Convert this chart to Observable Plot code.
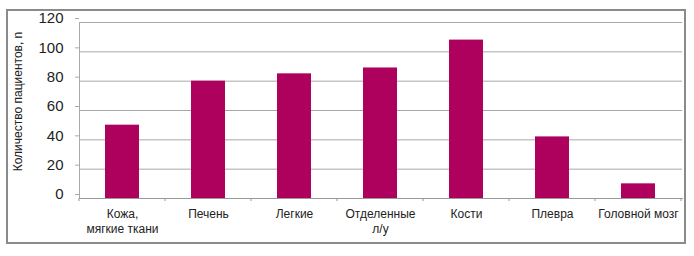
<!DOCTYPE html>
<html><head><meta charset="utf-8">
<script src="https://cdn.jsdelivr.net/npm/d3@7"></script>
<script src="https://cdn.jsdelivr.net/npm/@observablehq/plot@0.6"></script>
<style>
body{margin:0;background:#fff;font-family:"Liberation Sans",Arial,sans-serif;}
#wrap{position:relative;width:694px;height:256px;}
#box{position:absolute;left:6px;top:9px;width:676px;height:231px;border:2px solid #8a8a8a;pointer-events:none;}
</style></head>
<body><div id="wrap"><div id="box"></div></div>
<script>
const categories = ["Кожа,\nмягкие ткани","Печень","Легкие","Отделенные\nл/у","Кости","Плевра","Головной мозг"];
const values = [50, 80, 85, 89, 108, 42, 10];
const yTicks = [0, 20, 40, 60, 80, 100, 120];
const yLabel = "Количество пациентов, n";

const data = categories.map((c, i) => ({cat: c, val: values[i]}));

function boundaryTicks(index, scales, values, dimensions) {
  const g = d3.create("svg:g").attr("stroke", "#999");
  const x = scales.x, bw = x.bandwidth(), step = x.step();
  const y0 = dimensions.height - dimensions.marginBottom;
  const pos = categories.map(c => x(c) - (step - bw) / 2);
  pos.push(x(categories[categories.length - 1]) + bw + (step - bw) / 2);
  for (const p of pos) g.append("line").attr("x1", p).attr("x2", p).attr("y1", y0).attr("y2", y0 + 3);
  return g.node();
}

const chart = Plot.plot({
  width: 694, height: 256,
  marginLeft: 79, marginRight: 12, marginTop: 22, marginBottom: 58,
  style: {fontFamily: "'Liberation Sans', Arial, sans-serif", background: "transparent"},
  x: {domain: categories, paddingInner: 0.6, paddingOuter: 0.3},
  y: {domain: [0, 120]},
  marks: [
    Plot.gridY(yTicks, {stroke: "#a8a8a8", strokeOpacity: 1}),
    Plot.barY(data, {x: "cat", y: "val", fill: "#ae005d"}),
    Plot.frame({anchor: "left", stroke: "#aaa"}),
    Plot.frame({anchor: "bottom", stroke: "#999"}),
    boundaryTicks,
    Plot.axisY(yTicks, {tickSize: 4, tickPadding: 12, fontSize: 15, dy: -4, fill: "#222", stroke: "#aaa", label: null}),
    Plot.axisX({tickSize: 0, tickPadding: 9, fontSize: 12, lineHeight: 1.25, fill: "#222", label: null}),
    Plot.text([yLabel], {frameAnchor: "left", textAnchor: "middle", rotate: -90, dx: -61, dy: -9, fontSize: 12, fill: "#222"})
  ]
});
document.getElementById("wrap").prepend(chart);
</script></body></html>
